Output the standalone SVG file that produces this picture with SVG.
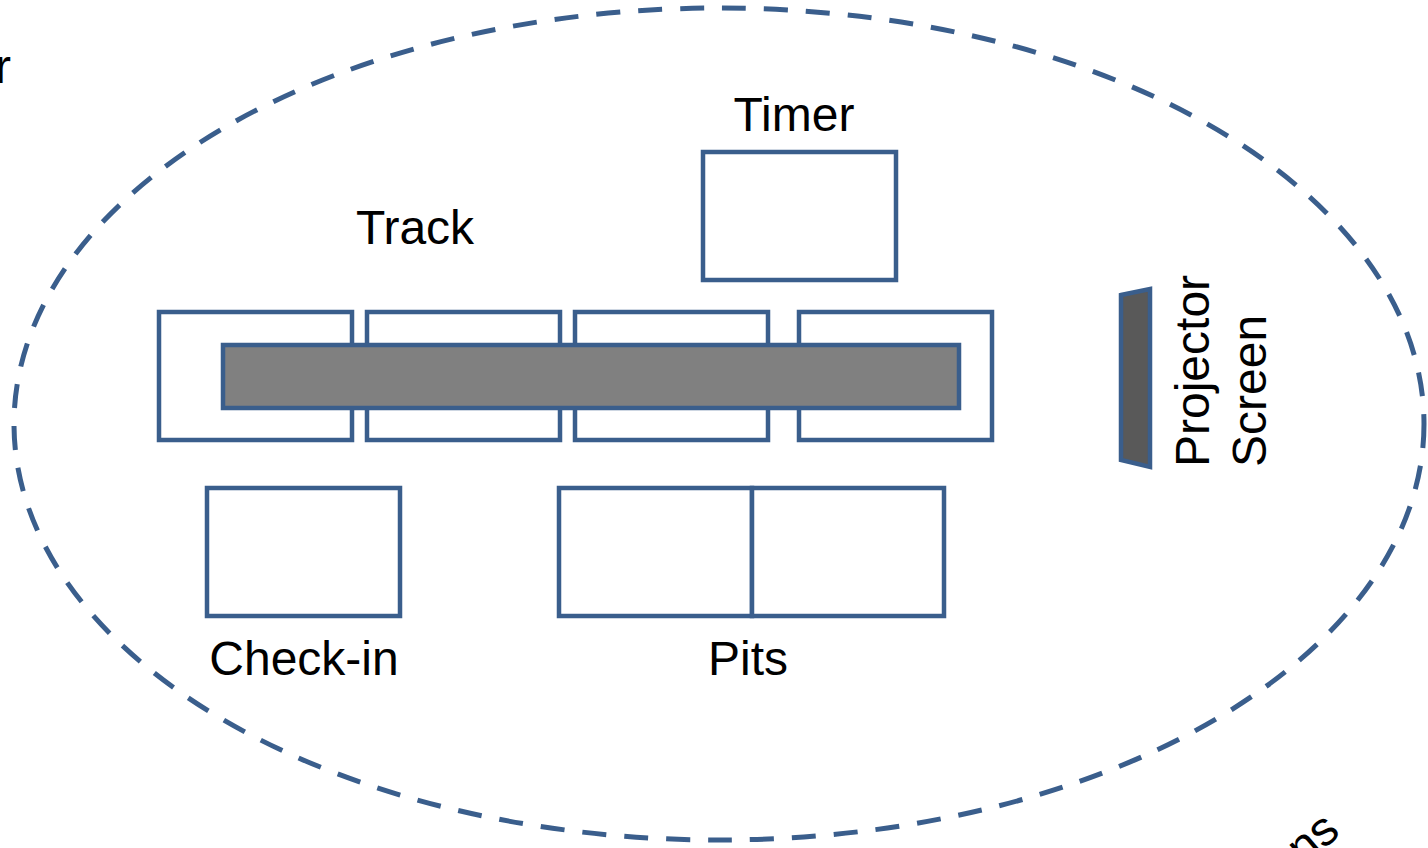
<svg xmlns="http://www.w3.org/2000/svg" width="1428" height="848" viewBox="0 0 1428 848">
<style>
.box{fill:#fff;stroke:#3A5E8C;stroke-width:4.5}
.lbl{font-family:"Liberation Sans",Arial,sans-serif;font-size:48px;fill:#000}
</style>
<rect width="1428" height="848" fill="#fff"/>
<g id="area">
<ellipse cx="719" cy="424" rx="705" ry="416" fill="none" stroke="#3A5E8C" stroke-width="5" stroke-dasharray="24,18"/>
</g>
<g id="timer">
<rect class="box" x="703" y="152" width="193" height="128"/>
<text class="lbl" x="794" y="131" text-anchor="middle">Timer</text>
</g>
<g id="track">
<rect class="box" x="159" y="312" width="193" height="128"/>
<rect class="box" x="367" y="312" width="193" height="128"/>
<rect class="box" x="575" y="312" width="193" height="128"/>
<rect class="box" x="799" y="312" width="193" height="128"/>
<rect x="223" y="345" width="736" height="63" fill="#808080" stroke="#3A5E8C" stroke-width="4.5"/>
<text class="lbl" x="415" y="244" text-anchor="middle">Track</text>
</g>
<g id="checkin">
<rect class="box" x="207" y="488" width="193" height="128"/>
<text class="lbl" x="304" y="675" text-anchor="middle">Check-in</text>
</g>
<g id="pits">
<rect class="box" x="559" y="488" width="193" height="128"/>
<rect class="box" x="752" y="488" width="192" height="128"/>
<text class="lbl" x="748" y="675" text-anchor="middle">Pits</text>
</g>
<g id="projector">
<polygon points="1121,295 1150,289 1150,467 1121,460" fill="#595959" stroke="#3A5E8C" stroke-width="4.5"/>
<text class="lbl" transform="translate(1209,467) rotate(-90)">Projector</text>
<text class="lbl" transform="translate(1266,467) rotate(-90)">Screen</text>
</g>
<g id="edge-texts">
<text class="lbl" x="11" y="83" text-anchor="end">r</text>
<text class="lbl" transform="translate(1342,834) rotate(-40)" text-anchor="end">ns</text>
</g>
</svg>
